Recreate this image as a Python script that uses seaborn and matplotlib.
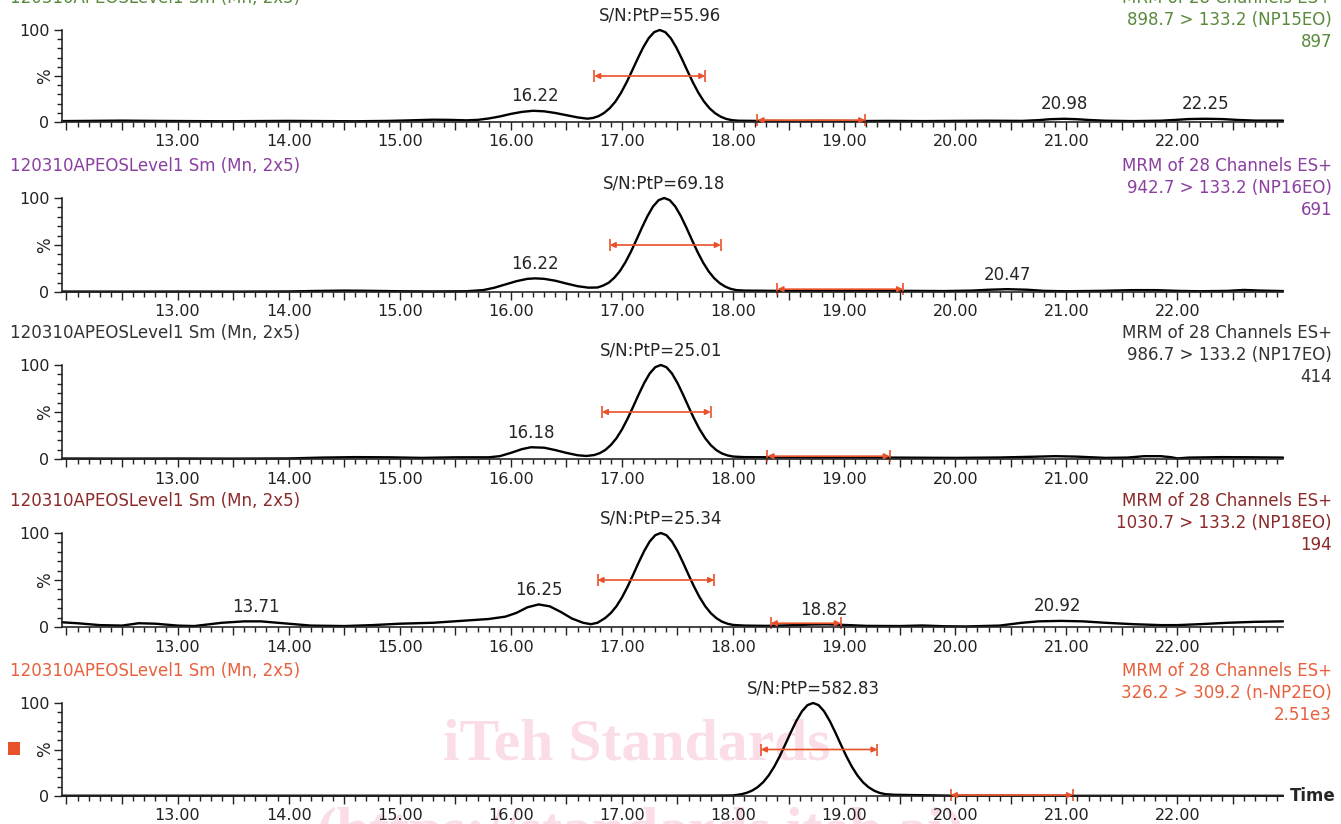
import numpy as np
import pandas as pd
import matplotlib
matplotlib.use('Agg')
import matplotlib.pyplot as plt
from matplotlib.patches import Rectangle
from matplotlib.ticker import MultipleLocator, FuncFormatter
import seaborn as sns

# traces: (retention time in min, relative intensity %)
np15eo = [(11.96, 1.0), (12.2, 1.2), (12.5, 1.5), (12.8, 1.2), (13.1, 1.0), (13.4, 0.8), (13.7, 1.0),
          (14.0, 1.2), (14.3, 1.0), (14.6, 0.8), (14.9, 1.2), (15.1, 1.8), (15.3, 2.5), (15.45, 2.3),
          (15.6, 1.8), (15.7, 2.3), (15.8, 3.8), (15.9, 6.0), (16.0, 8.8), (16.1, 11.0), (16.2, 12.2),
          (16.3, 11.6), (16.4, 9.8), (16.5, 7.4), (16.6, 5.0), (16.69, 3.6), (16.74, 4.4), (16.79, 6.4),
          (16.84, 9.9), (16.89, 15.0), (16.94, 22.0), (16.99, 31.4), (17.04, 42.7), (17.09, 55.4),
          (17.14, 68.5), (17.19, 80.8), (17.24, 91.0), (17.29, 97.7), (17.34, 100), (17.39, 97.7),
          (17.44, 91.0), (17.49, 80.8), (17.54, 68.5), (17.59, 55.4), (17.64, 42.7), (17.69, 31.4),
          (17.74, 22.0), (17.79, 14.7), (17.84, 9.4), (17.89, 5.7), (17.94, 3.3), (17.99, 2.0),
          (18.05, 1.4), (18.2, 1.2), (18.5, 1.0), (18.8, 1.2), (19.1, 1.0), (19.4, 1.2), (19.7, 1.0),
          (20.0, 1.2), (20.3, 1.4), (20.6, 1.2), (20.75, 2.0), (20.85, 3.0), (20.98, 3.5), (21.1, 3.0),
          (21.2, 2.2), (21.35, 1.4), (21.6, 1.0), (21.85, 1.4), (22.0, 2.4), (22.1, 3.2), (22.25, 3.5),
          (22.4, 3.2), (22.55, 2.2), (22.7, 1.5), (22.95, 1.5)]

np16eo = [(11.96, 0.5), (12.5, 0.4), (13.0, 0.5), (13.5, 0.4), (14.0, 0.6), (14.3, 1.2), (14.5, 1.5),
          (14.7, 1.3), (15.0, 0.8), (15.3, 0.6), (15.6, 0.8), (15.75, 2.0), (15.85, 4.5), (15.95, 8.0),
          (16.05, 11.5), (16.15, 14.0), (16.22, 14.5), (16.3, 14.0), (16.4, 12.0), (16.5, 9.0),
          (16.6, 6.2), (16.7, 4.6), (16.78, 4.8), (16.83, 6.8), (16.88, 9.8), (16.93, 15.0),
          (16.98, 22.0), (17.03, 31.4), (17.08, 42.7), (17.13, 55.4), (17.18, 68.5), (17.23, 80.8),
          (17.28, 91.0), (17.33, 97.7), (17.38, 100), (17.43, 97.7), (17.48, 91.0), (17.53, 80.8),
          (17.58, 68.5), (17.63, 55.4), (17.68, 42.7), (17.73, 31.4), (17.78, 22.0), (17.83, 14.7),
          (17.88, 9.4), (17.93, 5.7), (17.98, 3.3), (18.03, 2.0), (18.1, 1.5), (18.4, 1.2), (18.8, 1.0),
          (19.2, 1.0), (19.6, 1.2), (19.9, 1.0), (20.15, 1.5), (20.3, 2.4), (20.47, 3.0), (20.65, 2.4),
          (20.8, 1.2), (21.0, 0.8), (21.3, 1.2), (21.6, 2.0), (21.8, 2.0), (22.0, 1.2), (22.2, 0.8),
          (22.45, 1.2), (22.6, 2.2), (22.75, 1.5), (22.95, 1.0)]

np17eo = [(11.96, 0.5), (12.5, 0.4), (13.0, 0.5), (13.5, 0.4), (14.0, 0.6), (14.3, 1.5), (14.6, 2.0),
          (14.9, 1.8), (15.2, 1.2), (15.5, 1.8), (15.8, 1.8), (15.9, 3.0), (16.0, 6.5), (16.1, 10.5),
          (16.18, 12.5), (16.3, 12.0), (16.4, 9.5), (16.5, 6.5), (16.6, 4.0), (16.68, 3.2), (16.75, 4.2),
          (16.8, 6.2), (16.85, 9.6), (16.9, 14.9), (16.95, 22.0), (17.0, 31.4), (17.05, 42.7),
          (17.1, 55.4), (17.15, 68.5), (17.2, 80.8), (17.25, 91.0), (17.3, 97.7), (17.35, 100),
          (17.4, 97.7), (17.45, 91.0), (17.5, 80.8), (17.55, 68.5), (17.6, 55.4), (17.65, 42.7),
          (17.7, 31.4), (17.75, 22.0), (17.8, 14.7), (17.85, 9.4), (17.9, 5.9), (17.95, 3.8), (18.0, 2.6),
          (18.1, 2.0), (18.4, 1.8), (18.8, 1.6), (19.2, 1.6), (19.6, 1.4), (20.0, 1.2), (20.4, 1.6),
          (20.7, 2.4), (20.9, 3.0), (21.1, 2.5), (21.35, 1.2), (21.55, 1.5), (21.7, 3.0), (21.85, 3.0),
          (21.95, 1.8), (22.0, 0.6), (22.1, 1.5), (22.4, 2.0), (22.7, 1.8), (22.95, 1.5)]

np18eo = [(11.96, 5.0), (12.1, 4.0), (12.3, 2.0), (12.5, 1.5), (12.65, 4.0), (12.8, 3.5), (13.0, 1.5),
          (13.15, 1.0), (13.4, 4.5), (13.6, 6.0), (13.75, 6.0), (13.95, 4.0), (14.2, 1.5), (14.5, 1.0),
          (14.75, 2.0), (15.0, 3.5), (15.3, 4.5), (15.55, 6.5), (15.8, 8.5), (15.95, 11.0), (16.05, 15.0),
          (16.15, 21.0), (16.25, 24.0), (16.35, 22.0), (16.45, 16.0), (16.55, 9.0), (16.65, 4.5),
          (16.72, 3.0), (16.78, 4.5), (16.85, 9.6), (16.9, 14.9), (16.95, 22.0), (17.0, 31.4),
          (17.05, 42.7), (17.1, 55.4), (17.15, 68.5), (17.2, 80.8), (17.25, 91.0), (17.3, 97.7),
          (17.35, 100), (17.4, 97.7), (17.45, 91.0), (17.5, 80.8), (17.55, 68.5), (17.6, 55.4),
          (17.65, 42.7), (17.7, 31.4), (17.75, 22.0), (17.8, 14.7), (17.85, 9.4), (17.9, 5.7),
          (17.95, 3.5), (18.0, 2.2), (18.1, 1.5), (18.3, 1.2), (18.5, 1.8), (18.7, 2.6), (18.85, 2.8),
          (19.0, 2.2), (19.2, 1.2), (19.5, 1.0), (19.7, 1.6), (19.9, 0.8), (20.1, 0.6), (20.4, 1.5),
          (20.6, 4.5), (20.75, 6.0), (20.95, 6.5), (21.15, 6.0), (21.35, 4.5), (21.6, 3.0), (21.85, 2.0),
          (22.0, 2.0), (22.2, 3.0), (22.45, 4.5), (22.7, 5.5), (22.95, 6.0)]

np2eo = [(11.96, 0.3), (13.0, 0.3), (14.0, 0.3), (15.0, 0.3), (16.0, 0.3), (17.0, 0.3), (17.8, 0.4),
         (18.0, 0.6), (18.07, 1.8), (18.12, 3.3), (18.17, 5.7), (18.22, 9.4), (18.27, 14.7), (18.32, 22.0),
         (18.37, 31.4), (18.42, 42.7), (18.47, 55.4), (18.52, 68.5), (18.57, 80.8), (18.62, 91.0),
         (18.67, 97.7), (18.72, 100), (18.77, 97.7), (18.82, 91.0), (18.87, 80.8), (18.92, 68.5),
         (18.97, 55.4), (19.02, 42.7), (19.07, 31.4), (19.12, 22.0), (19.17, 14.7), (19.22, 9.4),
         (19.27, 5.7), (19.32, 3.3), (19.37, 2.0), (19.45, 1.3), (19.6, 1.0), (19.8, 0.7), (20.0, 0.3),
         (21.0, 0.2), (22.0, 0.2), (22.95, 0.2)]

traces = [np15eo, np16eo, np17eo, np18eo, np2eo]
sample = '120310APEOSLevel1 Sm (Mn, 2x5)'
scan = 'MRM of 28 Channels ES+'
transitions = ['898.7 > 133.2 (NP15EO)', '942.7 > 133.2 (NP16EO)', '986.7 > 133.2 (NP17EO)',
               '1030.7 > 133.2 (NP18EO)', '326.2 > 309.2 (n-NP2EO)']
intensities = ['897', '691', '414', '194', '2.51e3']
sn_values = ['55.96', '69.18', '25.01', '25.34', '582.83']
sn_rt = [17.34, 17.38, 17.35, 17.35, 18.72]
peak_rts = [[16.22, 20.98, 22.25], [16.22, 20.47], [16.18], [13.71, 16.25, 18.82, 20.92], []]
peak_windows = [(16.75, 17.75, 50), (16.89, 17.89, 50), (16.82, 17.80, 50), (16.78, 17.83, 50), (18.25, 19.30, 50)]
noise_windows = [(18.22, 19.19, 2), (18.40, 19.53, 3), (18.31, 19.41, 3), (18.34, 18.97, 4), (19.96, 21.06, 1)]
header_colors = ['#5a8a3c', '#8b3fa0', '#333333', '#8c2a2a', '#e8603c']
orange = '#e8522a'

sns.set_style('ticks')
plt.rcParams['font.family'] = ['DejaVu Sans']
plt.rcParams['font.size'] = 12

W, H = 1341, 824
ax_top = [30, 198, 365, 533, 703]
ax_bot = [122, 292, 459, 627, 796]

fig = plt.figure(figsize=(W / 100, H / 100), dpi=100)

for i in range(5):
    ax = fig.add_axes([62 / W, 1 - ax_bot[i] / H, (1283 - 62) / W, (ax_bot[i] - ax_top[i]) / H])
    ax.set_facecolor('none')
    df = pd.DataFrame(traces[i], columns=['time', 'pct'])
    sns.lineplot(data=df, x='time', y='pct', ax=ax, color='black', lw=1.7,
                 estimator=None, sort=False)
    ax.lines[0].set_clip_on(False)
    ax.set_xlim(11.96, 22.95)
    ax.set_ylim(0, 100)
    ax.set_xlabel('')
    ax.set_ylabel('')
    sns.despine(ax=ax)
    for s in ['left', 'bottom']:
        ax.spines[s].set_linewidth(1.2)

    ax.xaxis.set_major_locator(MultipleLocator(0.5))
    ax.xaxis.set_minor_locator(MultipleLocator(0.1))
    ax.xaxis.set_major_formatter(FuncFormatter(
        lambda v, p: '%.2f' % v if abs(v - round(v)) < 1e-6 and v >= 13 else ''))
    ax.set_yticks([0, 50, 100])
    ax.set_yticklabels(['0', '', '100'])
    ax.yaxis.set_minor_locator(MultipleLocator(10))
    ax.tick_params(which='major', length=6, width=1, labelsize=11.5, pad=3, colors='#222222')
    ax.tick_params(which='minor', length=3.5, width=1, colors='#222222')
    ax.text(-17 / 1221, 50, '%', transform=ax.get_yaxis_transform(), rotation=90,
            ha='center', va='center', fontsize=12, color='#222222')

    # signal-to-noise label and integration windows
    ax.annotate('S/N:PtP=' + sn_values[i], xy=(sn_rt[i], 100), xytext=(0, 4),
                textcoords='offset points', ha='center', va='bottom', fontsize=12)
    for rt in peak_rts[i]:
        yv = np.interp(rt, df['time'], df['pct'])
        ax.annotate('%.2f' % rt, xy=(rt, yv), xytext=(0, 4), textcoords='offset points',
                    ha='center', va='bottom', fontsize=12)
    for x1, x2, y in [peak_windows[i], noise_windows[i]]:
        ax.annotate('', xy=(x2, y), xytext=(x1, y),
                    arrowprops=dict(arrowstyle='<|-|>', color=orange, lw=1.2,
                                    shrinkA=0, shrinkB=0, mutation_scale=8))
        ax.plot([x1, x2], [y, y], ls='none', marker='|', ms=8, mew=1.2, color=orange, clip_on=False)

    # headers
    c = header_colors[i]
    yh = ax_top[i] - 32
    fig.text(10 / W, 1 - yh / H, sample, color=c, ha='left', va='center', fontsize=12)
    for k, line in enumerate([scan, transitions[i], intensities[i]]):
        fig.text(1332 / W, 1 - (yh + 22 * k) / H, line, color=c, ha='right', va='center', fontsize=12)

fig.text(1290 / W, 1 - 796 / H, 'Time', fontweight='bold', ha='left', va='center', fontsize=12)
fig.add_artist(Rectangle((8 / W, 1 - 755 / H), 12 / W, 13 / H, transform=fig.transFigure,
                         color=orange, lw=0))

# watermark
fig.text(637 / W, 1 - 745 / H, 'iTeh Standards', family='Liberation Serif', fontweight='bold',
         fontsize=43, color='#fadde6', ha='center', va='center', zorder=-1)
fig.text(640 / W, 1 - 834 / H, '(https://standards.iteh.ai)', family='Liberation Serif',
         fontweight='bold', fontsize=43, color='#fadde6', ha='center', va='center', zorder=-1)

fig.savefig('out.png', dpi=100)
